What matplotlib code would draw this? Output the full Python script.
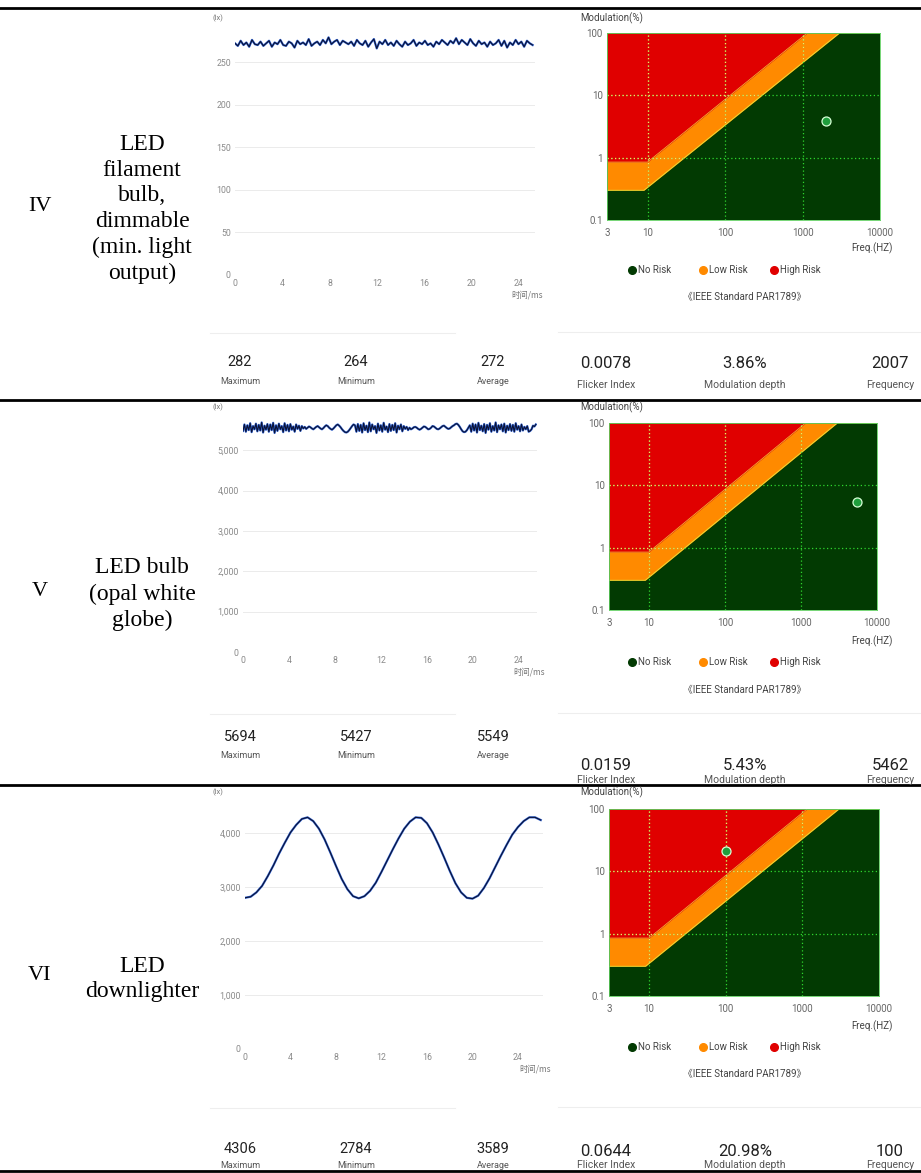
import matplotlib
matplotlib.use("Agg")
import matplotlib.pyplot as plt
import numpy as np
from matplotlib.lines import Line2D
from matplotlib.ticker import NullLocator

W, H = 921, 1173

ROW_NAMES = ["IV", "V", "VI"]
ROW_LABELS = [
    "LED\nfilament\nbulb,\ndimmable\n(min. light\noutput)",
    "LED bulb\n(opal white\nglobe)",
    "LED\ndownlighter",
]

# illuminance traces (lx)
IV_DT = 0.24
IV_LUX = [
    272, 269, 275, 270, 273, 268, 276, 271, 270, 274, 269, 272, 275, 268, 273, 271, 276, 270, 269, 274,
    272, 267, 275, 271, 273, 270, 277, 269, 272, 274, 270, 276, 272, 279, 271, 274, 276, 270, 275, 273,
    271, 274, 269, 276, 272, 270, 275, 268, 273, 277, 266, 274, 271, 276, 270, 273, 269, 275, 271, 268,
    274, 270, 272, 276, 269, 273, 271, 275, 270, 272, 268, 274, 271, 276, 273, 270, 275, 272, 278, 271,
    276, 273, 270, 277, 272, 269, 275, 271, 273, 268, 274, 270, 272, 276, 269, 275, 267, 273, 270, 276,
    271, 274, 268, 275, 272, 270,
]
V_DT = 0.125
V_LUX = [
    5480, 5640, 5460, 5620, 5500, 5670, 5450, 5600, 5520, 5660,
    5470, 5630, 5490, 5690, 5440, 5610, 5510, 5650, 5460, 5640,
    5500, 5680, 5430, 5620, 5480, 5660, 5520, 5600, 5450, 5670,
    5490, 5630, 5470, 5650, 5510, 5590, 5460, 5640, 5530, 5610,
    5480, 5600, 5540, 5580,
    5530, 5560, 5590, 5570, 5540, 5520, 5550, 5580, 5600, 5570,
    5540, 5520, 5550, 5590, 5620, 5600, 5560, 5530, 5510, 5540,
    5580, 5620, 5640, 5610, 5570,
    5520, 5480, 5450, 5440, 5460, 5500, 5550, 5600, 5640, 5620,
    5460, 5650, 5480, 5630, 5440, 5670, 5500, 5610, 5450, 5690,
    5470, 5640, 5520, 5600, 5430, 5660, 5490, 5620, 5460, 5680,
    5510, 5590, 5450, 5650, 5480, 5630, 5500, 5670, 5440, 5610,
    5520, 5640, 5470, 5600, 5530, 5580, 5500, 5560,
    5520, 5540, 5570, 5580, 5560, 5530, 5510, 5530, 5560, 5590,
    5580, 5550, 5520, 5530, 5560, 5600, 5590, 5560, 5530, 5520,
    5540, 5570, 5600, 5610, 5580, 5550, 5530, 5540, 5570, 5600,
    5620, 5650, 5660, 5630, 5580, 5520, 5470, 5450, 5460, 5500, 5560,
    5620, 5460, 5660, 5490, 5640, 5440, 5680, 5500, 5610, 5470,
    5650, 5430, 5630, 5510, 5670, 5460, 5600, 5490, 5690, 5450,
    5620, 5520, 5640, 5470, 5660, 5440, 5610, 5500, 5650, 5480,
    5630, 5460, 5670, 5510, 5600, 5470, 5640, 5490, 5580, 5520,
    5600, 5460, 5480, 5520, 5610, 5590, 5640,
]
VI_DT = 0.5
VI_LUX = [
    2800, 2820, 2900, 3020, 3200, 3400, 3620, 3820, 4010, 4150,
    4260, 4290, 4220, 4080, 3880, 3640, 3390, 3150, 2960, 2830,
    2790, 2830, 2930, 3080, 3280, 3490, 3700, 3900, 4080, 4210,
    4290, 4280, 4180, 4010, 3790, 3550, 3300, 3070, 2900, 2800,
    2784, 2840, 2980, 3160, 3370, 3580, 3780, 3970, 4110, 4220,
    4290, 4290, 4240,
]
WAVES = [(IV_DT, IV_LUX), (V_DT, V_LUX), (VI_DT, VI_LUX)]

WAVE_YTICKS = [
    [0, 50, 100, 150, 200, 250],
    [0, 1000, 2000, 3000, 4000, 5000],
    [0, 1000, 2000, 3000, 4000],
]
WAVE_XTICKS = [0, 4, 8, 12, 16, 20, 24]

STAT_NAMES_LEFT = ["Maximum", "Minimum", "Average"]
STAT_LEFT = [["282", "264", "272"], ["5694", "5427", "5549"], ["4306", "2784", "3589"]]
STAT_NAMES_RIGHT = ["Flicker Index", "Modulation depth", "Frequency"]
STAT_RIGHT = [["0.0078", "3.86%", "2007"], ["0.0159", "5.43%", "5462"], ["0.0644", "20.98%", "100"]]

# IEEE PAR1789 risk boundaries
NOEL_FREQ = [3, 9, 3000, 10000]
NOEL_MOD = [0.3, 0.3, 100, 100]
LOW_FREQ = [3, 10, 1150, 10000]
LOW_MOD = [0.85, 0.85, 100, 100]
FREQ_TICKS = [3, 10, 100, 1000, 10000]
MOD_TICKS = [0.1, 1, 10, 100]
MOD_TICK_LABELS = ["0.1", "1", "10", "100"]
RISK_NAMES = ["No Risk", "Low Risk", "High Risk"]

POINT_FREQ = [2007, 5462, 100]
POINT_MOD = [3.86, 5.43, 20.98]

GREEN = "#023a02"
ORANGE = "#ff8a00"
RED = "#e00000"
RISK_COLORS = [GREEN, ORANGE, RED]

# pixel layout per row
RULES = [8, 400, 785, 1171]
LABEL_Y = [209, 594, 979]
WAVE_BOX = [(235, 28, 535, 275), (243, 418, 537, 652), (245, 806, 543, 1049)]
WAVE_XLIM = [25.4, 25.6, 26.2]
WAVE_YLIM = [290, 5800, 4500]
RISK_BOX = [(607, 33, 880, 220), (609, 423, 877, 610), (609, 809, 879, 996)]
TOP_Y = [18, 407, 792]
STAT_Y = [(362, 382, 364, 385), (737, 755, 765, 780), (1149, 1165, 1152, 1165)]
SEP_Y = [333, 714, 1108]
FREQ_Y = [248, 641, 1026]
LEGEND_Y = [270, 662, 1047]
IEEE_Y = [297, 690, 1074]

FONT = "Roboto"
CJK = ["Noto Sans CJK SC", "DejaVu Sans"]


def px_axes(fig, box):
    x0, y0, x1, y1 = box
    return fig.add_axes([x0 / W, 1 - y1 / H, (x1 - x0) / W, (y1 - y0) / H])


def ftext(fig, x, y, s, **kw):
    kw.setdefault("va", "center")
    kw.setdefault("ha", "center")
    return fig.text(x / W, 1 - y / H, s, **kw)


def hline(fig, y, x0, x1, lw, color):
    fig.add_artist(Line2D([x0 / W, x1 / W], [1 - y / H, 1 - y / H],
                          transform=fig.transFigure, lw=lw, color=color))


def draw_wave(fig, i):
    ax = px_axes(fig, WAVE_BOX[i])
    dt, lux = WAVES[i]
    t = np.arange(len(lux)) * dt
    ax.plot(t, lux, color="#3466d6", lw=1.6, solid_joinstyle="round")
    ax.plot(t, lux, color="#0b1233", lw=0.8)
    ax.set_xlim(0, WAVE_XLIM[i])
    ax.set_ylim(0, WAVE_YLIM[i])
    ax.set_yticks(WAVE_YTICKS[i])
    ax.set_yticklabels([f"{v:,}" for v in WAVE_YTICKS[i]])
    ax.set_xticks(WAVE_XTICKS)
    ax.yaxis.grid(True, color="#ebebeb", lw=0.7)
    ax.set_axisbelow(True)
    for s in ax.spines.values():
        s.set_visible(False)
    ax.tick_params(length=0, labelsize=6.3, colors="#8a8a8a", pad=3)
    for lab in ax.get_xticklabels() + ax.get_yticklabels():
        lab.set_fontfamily(FONT)
    x1 = WAVE_BOX[i][2]
    y1 = WAVE_BOX[i][3]
    ftext(fig, x1 + 8, y1 + 20, "时间/ms", ha="right", fontsize=6, color="#777777", family=CJK)
    ftext(fig, 218, TOP_Y[i], "(lx)", fontsize=5.5, color="#777777", family=FONT)


def draw_risk(fig, i):
    ax = px_axes(fig, RISK_BOX[i])
    ax.set_xscale("log")
    ax.set_yscale("log")
    ax.set_xlim(FREQ_TICKS[0], FREQ_TICKS[-1])
    ax.set_ylim(MOD_TICKS[0], MOD_TICKS[-1])
    ax.set_facecolor(GREEN)
    upper = ax.fill_between(NOEL_FREQ, NOEL_MOD, 100, color=ORANGE, lw=0)
    ax.fill_between(LOW_FREQ, LOW_MOD, 100, color=RED, lw=0)
    ax.plot(NOEL_FREQ, NOEL_MOD, color="#e6e23a", lw=0.6)
    ax.plot(LOW_FREQ, LOW_MOD, color="#f2c83a", lw=0.5)

    clip = upper.get_paths()[0]
    for f in FREQ_TICKS[1:-1]:
        ax.axvline(f, color="#2ed62e", ls=(0, (1, 2)), lw=0.9)
        ln = ax.axvline(f, color="#ffe066", ls=(0, (1, 2)), lw=0.9)
        ln.set_clip_path(clip, ax.transData)
    for m in MOD_TICKS[1:-1]:
        ax.axhline(m, color="#2ed62e", ls=(0, (1, 2)), lw=0.9)
        ln = ax.axhline(m, color="#ffe066", ls=(0, (1, 2)), lw=0.9)
        ln.set_clip_path(clip, ax.transData)

    ax.plot(POINT_FREQ[i], POINT_MOD[i], "o", ms=6.5, mfc="#1f9e3c", mec="#d6ffd6", mew=0.9, zorder=5)

    ax.set_xticks(FREQ_TICKS)
    ax.set_xticklabels([str(f) for f in FREQ_TICKS])
    ax.set_yticks(MOD_TICKS)
    ax.set_yticklabels(MOD_TICK_LABELS)
    ax.xaxis.set_minor_locator(NullLocator())
    ax.yaxis.set_minor_locator(NullLocator())
    ax.tick_params(length=0, labelsize=7, colors="#666666")
    ax.tick_params(axis="x", pad=6)
    ax.tick_params(axis="y", pad=3)
    for lab in ax.get_xticklabels() + ax.get_yticklabels():
        lab.set_fontfamily(FONT)
    for s in ax.spines.values():
        s.set_color("#5fcf5f")
        s.set_linewidth(0.6)

    ftext(fig, 580, TOP_Y[i], "Modulation(%)", ha="left", fontsize=7, color="#444444", family=FONT)
    ftext(fig, 893, FREQ_Y[i], "Freq.(HZ)", ha="right", fontsize=7, color="#444444", family=FONT)
    for k, (name, col) in enumerate(zip(RISK_NAMES, RISK_COLORS)):
        cx = 632 + k * 71
        fig.add_artist(Line2D([cx / W], [1 - LEGEND_Y[i] / H], transform=fig.transFigure,
                              marker="o", ms=5.5, color=col, ls="none"))
        ftext(fig, cx + 6, LEGEND_Y[i], name, ha="left", fontsize=7, color="#444444", family=FONT)
    ftext(fig, 745, IEEE_Y[i], "《IEEE Standard PAR1789》", fontsize=7, color="#444444",
          family=[FONT, "Noto Sans CJK SC"])


def draw_stats(fig, i):
    ny_l, ly_l, ny_r, ly_r = STAT_Y[i]
    for x, val, name in zip([240, 356, 493], STAT_LEFT[i], STAT_NAMES_LEFT):
        ftext(fig, x, ny_l, val, fontsize=10.5, color="#222222", family=FONT)
        ftext(fig, x, ly_l, name, fontsize=6.5, color="#555555", family=FONT)
    for x, val, name in zip([606, 745, 890], STAT_RIGHT[i], STAT_NAMES_RIGHT):
        ftext(fig, x, ny_r, val, fontsize=12, color="#222222", family=FONT)
        ftext(fig, x, ly_r, name, fontsize=7.5, color="#555555", family=FONT)
    hline(fig, SEP_Y[i], 210, 455, 0.8, "#eeeeee")
    hline(fig, SEP_Y[i] - 1, 558, 921, 0.8, "#eeeeee")


def main():
    fig = plt.figure(figsize=(W / 100, H / 100), dpi=100)
    fig.patch.set_facecolor("white")

    for y in RULES:
        hline(fig, y, 0, W, 2.0, "black")

    for i in range(3):
        ftext(fig, 40, LABEL_Y[i] - 3, ROW_NAMES[i], fontsize=16, family="Liberation Serif")
        ftext(fig, 142, LABEL_Y[i], ROW_LABELS[i], fontsize=17, family="Liberation Serif",
              linespacing=1.3, ma="center")
        draw_wave(fig, i)
        draw_risk(fig, i)
        draw_stats(fig, i)

    fig.savefig("out.png", dpi=100)


if __name__ == "__main__":
    main()
